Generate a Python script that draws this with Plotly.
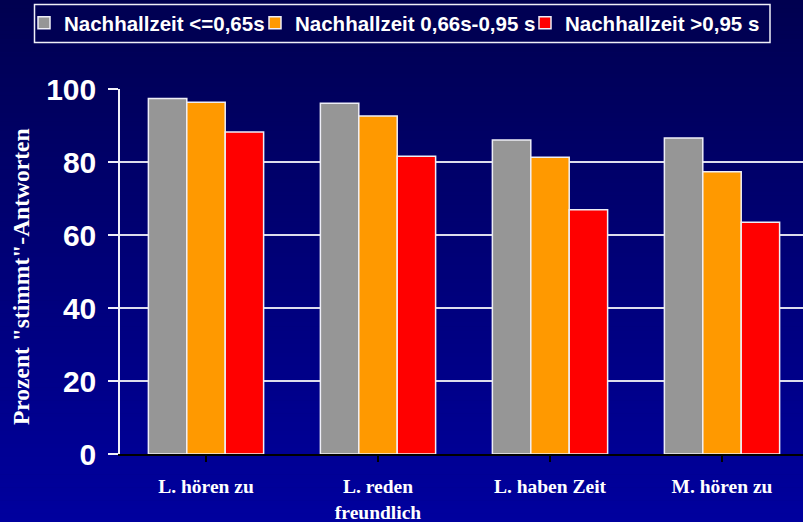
import plotly.graph_objects as go

categories = ["L. hören zu", "L. reden<br>freundlich", "L. haben Zeit", "M. hören zu"]
series_names = ["Nachhallzeit <=0,65s", "Nachhallzeit 0,66s-0,95 s", "Nachhallzeit >0,95 s"]
vals_short = [97.4, 96.1, 86.0, 86.6]
vals_mid = [96.4, 92.6, 81.3, 77.3]
vals_long = [88.2, 81.6, 66.9, 63.5]
y_ticks = [0, 20, 40, 60, 80, 100]
y_title = 'Prozent "stimmt"-Antworten'
colors = ["#969696", "#FF9900", "#FF0000"]

W, H = 803, 522
L, R, T, B = 120, 0, 89, 68
PW, PH = W - L - R, H - T - B


def px_x(px):
    return (px - L) / PW


def px_y(py):
    return (H - B - py) / PH


fig = go.Figure()
legends = ["legend", "legend2", "legend3"]
for name, vals, col, lg in zip(series_names, [vals_short, vals_mid, vals_long], colors, legends):
    fig.add_trace(go.Bar(
        x=list(range(len(categories))), y=vals, name=name, legend=lg,
        marker=dict(color=col, line=dict(color="#eeeef6", width=1.5)),
    ))

# vertical gradient background
shapes = []
N = 120
top = (0x00, 0x00, 0x50)
bot = (0x00, 0x00, 0x9E)
for i in range(N):
    f = i / (N - 1)
    c = tuple(round(top[k] + (bot[k] - top[k]) * f) for k in range(3))
    y0 = i * H / N
    y1 = (i + 1) * H / N + 0.6
    shapes.append(dict(type="rect", xref="paper", yref="paper",
                       x0=px_x(-2), x1=px_x(W + 2), y0=px_y(y1), y1=px_y(y0),
                       fillcolor="rgb(%d,%d,%d)" % c, line=dict(width=0), layer="below"))
# legend frame
shapes.append(dict(type="rect", xref="paper", yref="paper",
                   x0=px_x(34.5), x1=px_x(770), y0=px_y(42.5), y1=px_y(4.5),
                   fillcolor="#000053", line=dict(color="#f0f0f8", width=1.5), layer="below"))

legend_font = dict(family="Liberation Sans, Arial", size=20.5, color="white", weight="bold")
text_starts = [64, 295, 565]
leg_layout = {}
for lg, xs in zip(legends, text_starts):
    leg_layout[lg] = dict(
        orientation="h", xref="paper", yref="paper",
        x=px_x(xs - 40), xanchor="left", y=px_y(23), yanchor="middle",
        bgcolor="rgba(0,0,0,0)", borderwidth=0, font=legend_font,
        itemclick=False, itemdoubleclick=False,
    )

fig.update_layout(
    width=W, height=H,
    margin=dict(l=L, r=R, t=T, b=B, pad=0, autoexpand=False),
    paper_bgcolor="#000070", plot_bgcolor="rgba(0,0,0,0)",
    barmode="group", bargap=0.33, bargroupgap=0,
    shapes=shapes,
    showlegend=True,
    annotations=[dict(
        text=y_title, textangle=-90, xref="paper", yref="paper",
        x=px_x(21), y=px_y(277), xanchor="center", yanchor="middle", showarrow=False,
        font=dict(family="Liberation Serif, Times New Roman", size=23.5, color="white", weight="bold"),
    )],
    **leg_layout,
)

fig.update_xaxes(
    range=[-0.5, -0.5 + PW / 172.0], automargin=False,
    tickmode="array", tickvals=list(range(len(categories))), ticktext=categories,
    tickson="boundaries", ticks="outside", ticklen=6, tickwidth=2, tickcolor="black",
    showline=True, linecolor="black", linewidth=2,
    showgrid=False, zeroline=False,
    tickfont=dict(family="Liberation Serif, Times New Roman", size=19.5, color="white", weight="bold"),
    ticklabelstandoff=8,
)
fig.update_yaxes(
    range=[0, 100], tickmode="array", tickvals=y_ticks, automargin=False,
    ticks="outside", ticklen=10, tickwidth=1.5, tickcolor="#f0f0f8",
    showline=True, linecolor="#f0f0f8", linewidth=1.5,
    showgrid=True, gridcolor="#dcdcec", gridwidth=1.5, zeroline=False,
    tickfont=dict(family="Liberation Sans, Arial", size=30, color="white", weight="bold"),
    ticklabelstandoff=6,
)

fig.write_html(
    "out.html",
    config={"displayModeBar": False},
    post_script="document.body.style.margin='0px';document.body.style.background='#000070';",
)
